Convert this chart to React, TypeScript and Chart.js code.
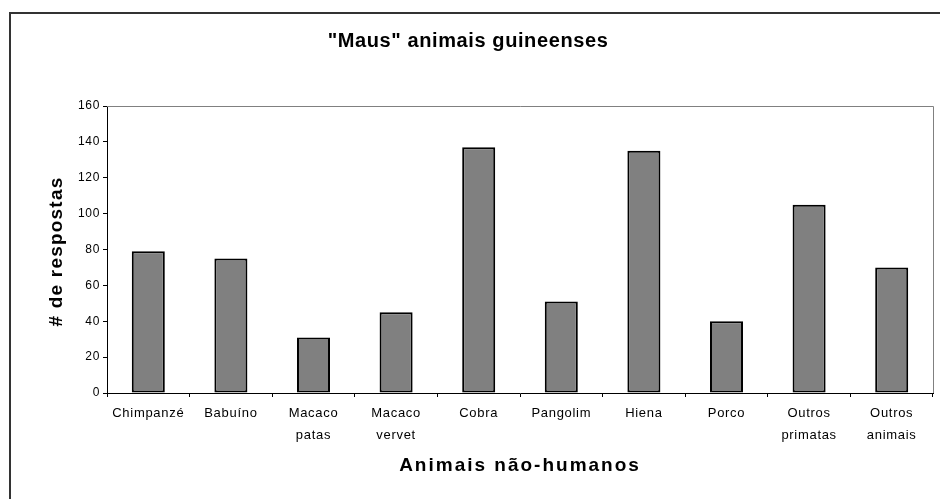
import React, { useEffect, useRef } from "react";
import { Chart, registerables } from "chart.js";

Chart.register(...registerables);

const TITLE = '"Maus" animais guineenses';
const Y_TITLE = "# de respostas";
const X_TITLE = "Animais não-humanos";
const CATEGORIES: (string | string[])[] = [
  "Chimpanzé",
  "Babuíno",
  ["Macaco", "patas"],
  ["Macaco", "vervet"],
  "Cobra",
  "Pangolim",
  "Hiena",
  "Porco",
  ["Outros", "primatas"],
  ["Outros", "animais"],
];
const RESPOSTAS = [79, 75, 31, 45, 137, 51, 135, 40, 105, 70];
const Y_MIN = 0;
const Y_MAX = 160;
const Y_STEP = 20;

const FONT = '"Liberation Sans", Arial, sans-serif';

const decorPlugin = {
  id: "decor",
  beforeUpdate(chart: any) {
    chart.ctx.letterSpacing = "0.7px";
  },
  beforeDraw(chart: any) {
    const ctx = chart.ctx;
    ctx.save();
    ctx.fillStyle = "#ffffff";
    ctx.fillRect(0, 0, chart.width, chart.height);
    // outer frame
    ctx.strokeStyle = "#333333";
    ctx.lineWidth = 2;
    ctx.strokeRect(10, 13, 1000, 600);
    ctx.restore();
    ctx.letterSpacing = "0.7px";
  },
  afterDraw(chart: any) {
    const ctx = chart.ctx;
    const a = chart.chartArea;
    ctx.save();
    // plot border top and right (gray)
    ctx.strokeStyle = "#808080";
    ctx.lineWidth = 1;
    ctx.beginPath();
    ctx.moveTo(a.left, a.top + 0.5);
    ctx.lineTo(a.right + 0.5, a.top + 0.5);
    ctx.lineTo(a.right + 0.5, a.bottom);
    ctx.stroke();

    ctx.fillStyle = "#000000";
    // main title
    ctx.letterSpacing = "0.6px";
    ctx.font = `bold 20px ${FONT}`;
    ctx.textAlign = "center";
    ctx.textBaseline = "alphabetic";
    ctx.fillText(TITLE, 468, 47);

    // x title
    ctx.letterSpacing = "2px";
    ctx.font = `bold 19px ${FONT}`;
    ctx.fillText(X_TITLE, (a.left + a.right) / 2, 471);

    // y title
    ctx.letterSpacing = "1.2px";
    ctx.translate(62, (a.top + a.bottom) / 2 + 2);
    ctx.rotate(-Math.PI / 2);
    ctx.textAlign = "center";
    ctx.textBaseline = "alphabetic";
    ctx.fillText(Y_TITLE, 0, 0);
    ctx.restore();
  },
};

export default function App() {
  const ref = useRef<HTMLCanvasElement | null>(null);

  useEffect(() => {
    document.body.style.margin = "0";
    const canvas = ref.current;
    if (!canvas) return;
    const chart = new Chart(canvas, {
      type: "bar",
      data: {
        labels: CATEGORIES as any,
        datasets: [
          {
            data: RESPOSTAS,
            backgroundColor: "#808080",
            borderColor: "#000000",
            borderWidth: 2,
            borderSkipped: false,
            barPercentage: 0.4,
            categoryPercentage: 1,
          },
        ],
      },
      options: {
        animation: false,
        responsive: false,
        maintainAspectRatio: false,
        devicePixelRatio: 1,
        layout: { padding: { top: 106, right: 7, left: 0, bottom: 0 } },
        plugins: {
          legend: { display: false },
          title: { display: false },
          tooltip: { enabled: false },
        },
        scales: {
          x: {
            type: "category",
            offset: true,
            grid: {
              offset: true,
              drawOnChartArea: false,
              drawTicks: true,
              tickLength: 4,
              color: "#000000",
            },
            border: { display: true, color: "#000000", width: 1 },
            ticks: {
              color: "#000000",
              font: { family: FONT, size: 13, lineHeight: 1.7 },
              padding: 5,
              maxRotation: 0,
              minRotation: 0,
              autoSkip: false,
            },
            afterFit(scale: any) {
              scale.height = 106;
            },
          },
          y: {
            min: Y_MIN,
            max: Y_MAX,
            ticks: {
              stepSize: Y_STEP,
              color: "#000000",
              font: { family: FONT, size: 12 },
              padding: 3,
            },
            grid: {
              drawOnChartArea: false,
              drawTicks: true,
              tickLength: 4,
              color: "#000000",
            },
            border: { display: true, color: "#000000", width: 1 },
            afterFit(scale: any) {
              scale.width = 107;
            },
          },
        },
      },
      plugins: [decorPlugin],
    });
    return () => chart.destroy();
  }, []);

  return (
    <div style={{ width: 940, height: 499, position: "relative" }}>
      <canvas ref={ref} width={940} height={499} style={{ display: "block" }} />
    </div>
  );
}
